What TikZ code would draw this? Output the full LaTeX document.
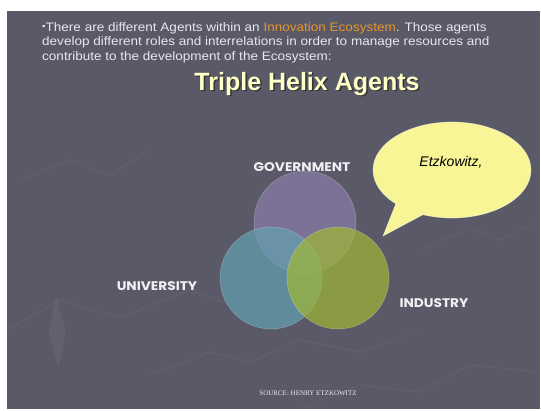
\documentclass[tikz,border=0pt]{standalone}
\usepackage{fontspec}
\setmainfont{Liberation Sans}
\newfontfamily\bodyfont[FakeStretch=1.1]{Liberation Sans}
\newfontfamily\gothic[FakeStretch=1.1]{Poppins}
\newfontfamily\srcfont{Liberation Serif}
\usetikzlibrary{shapes.geometric}

\definecolor{slidebg}{RGB}{89,89,104}
\definecolor{bodygray}{RGB}{232,232,240}
\definecolor{innoorange}{RGB}{232,149,42}
\definecolor{titleyellow}{RGB}{255,255,200}
\definecolor{labelgray}{RGB}{240,240,244}
\definecolor{govfill}{RGB}{139,126,170}
\definecolor{unifill}{RGB}{99,161,177}
\definecolor{indfill}{RGB}{160,184,53}
\definecolor{bubblefill}{RGB}{248,245,150}

\begin{document}
\begin{tikzpicture}[x=1pt, y=-1pt,
		agent/.style = {circle, minimum size=102pt, inner sep=0pt, fill opacity=0.7, draw=white, draw opacity=0.25, line width=0.6pt},
		agentlabel/.style = {inner sep=0pt, text=labelgray, font=\gothic\bfseries\fontsize{12.5}{12.5}\selectfont},
		bodyline/.style = {anchor=base west, inner sep=0pt, text=bodygray, font=\bodyfont\fontsize{12.3}{14}\selectfont},
		mapline/.style = {draw=white, draw opacity=0.055, line width=0.8pt}]
				\useasboundingbox (0,0) rectangle (541,410);
				\fill[white] (0,0) rectangle (541,410);
				\fill[slidebg] (7,11) rectangle (540,409);

				% faint map in the background
				\draw[mapline] (7,330) -- (60,300) -- (120,318) -- (190,290) -- (230,305);
				\draw[mapline] (150,375) -- (210,352) -- (250,362) -- (300,340) -- (360,352) -- (420,330);
				\draw[mapline] (300,409) -- (360,385) -- (420,392) -- (470,365) -- (540,372);
				\draw[mapline] (420,250) -- (470,228) -- (500,240) -- (540,220);
				\draw[mapline] (20,180) -- (70,160) -- (110,175) -- (150,150);
				\fill[white, opacity=0.05] (56,296) -- (66,332) -- (58,368) -- (49,332) -- cycle;

				% text of the slide
				\node[bodyline] (line1) at (42,31) {\raisebox{1.5pt}{\fontsize{9}{9}\selectfont •}There are different Agents within an \textcolor{innoorange}{Innovation Ecosystem}. Those agents};
				\node[bodyline] (line2) at (42,45.5) {develop different roles and interrelations in order to manage resources and};
				\node[bodyline] (line3) at (42,60) {contribute to the development of the Ecosystem:};

				\node[inner sep=0pt, text=black!80, font=\bfseries\fontsize{25}{25}\selectfont] (titleshadow) at (308.5,85.5) {Triple Helix Agents};
				\node[inner sep=0pt, text=titleyellow, font=\bfseries\fontsize{25}{25}\selectfont] (title) at (307,84) {Triple Helix Agents};

				% the three agents
				\node[agent, fill=govfill] (gov) at (305,222) {};
				\node[agent, fill=unifill] (uni) at (271,278) {};
				\node[agent, fill=indfill] (ind) at (338,278) {};

				\node[agentlabel] (govlabel) at (302,167) {GOVERNMENT};
				\node[agentlabel] (unilabel) at (157,286) {UNIVERSITY};
				\node[agentlabel] (indlabel) at (434,303) {INDUSTRY};

				% speech bubble
				\node[ellipse, minimum width=158pt, minimum height=96pt, outer sep=0pt, fill=bubblefill, draw=white, draw opacity=0.5, line width=0.6pt] (note) at (452,170) {};
				\coordinate (tip) at (383,236);
				\fill[bubblefill] (note.211) -- (tip) -- (note.237) -- cycle;
				\draw[white, opacity=0.5, line width=0.6pt] (note.211) -- (tip) -- (note.237);
				\fill[bubblefill] (note.205) -- (note.center) -- (note.243) -- cycle;
				\node[inner sep=0pt, text=black, font=\itshape\fontsize{14}{14}\selectfont] (etz) at (451,162) {Etzkowitz,};

				\node[inner sep=0pt, text=bodygray!90, font=\srcfont\fontsize{7}{7}\selectfont] (source) at (308,393) {SOURCE: HENRY ETZKOWITZ};
			\end{tikzpicture}
\end{document}
